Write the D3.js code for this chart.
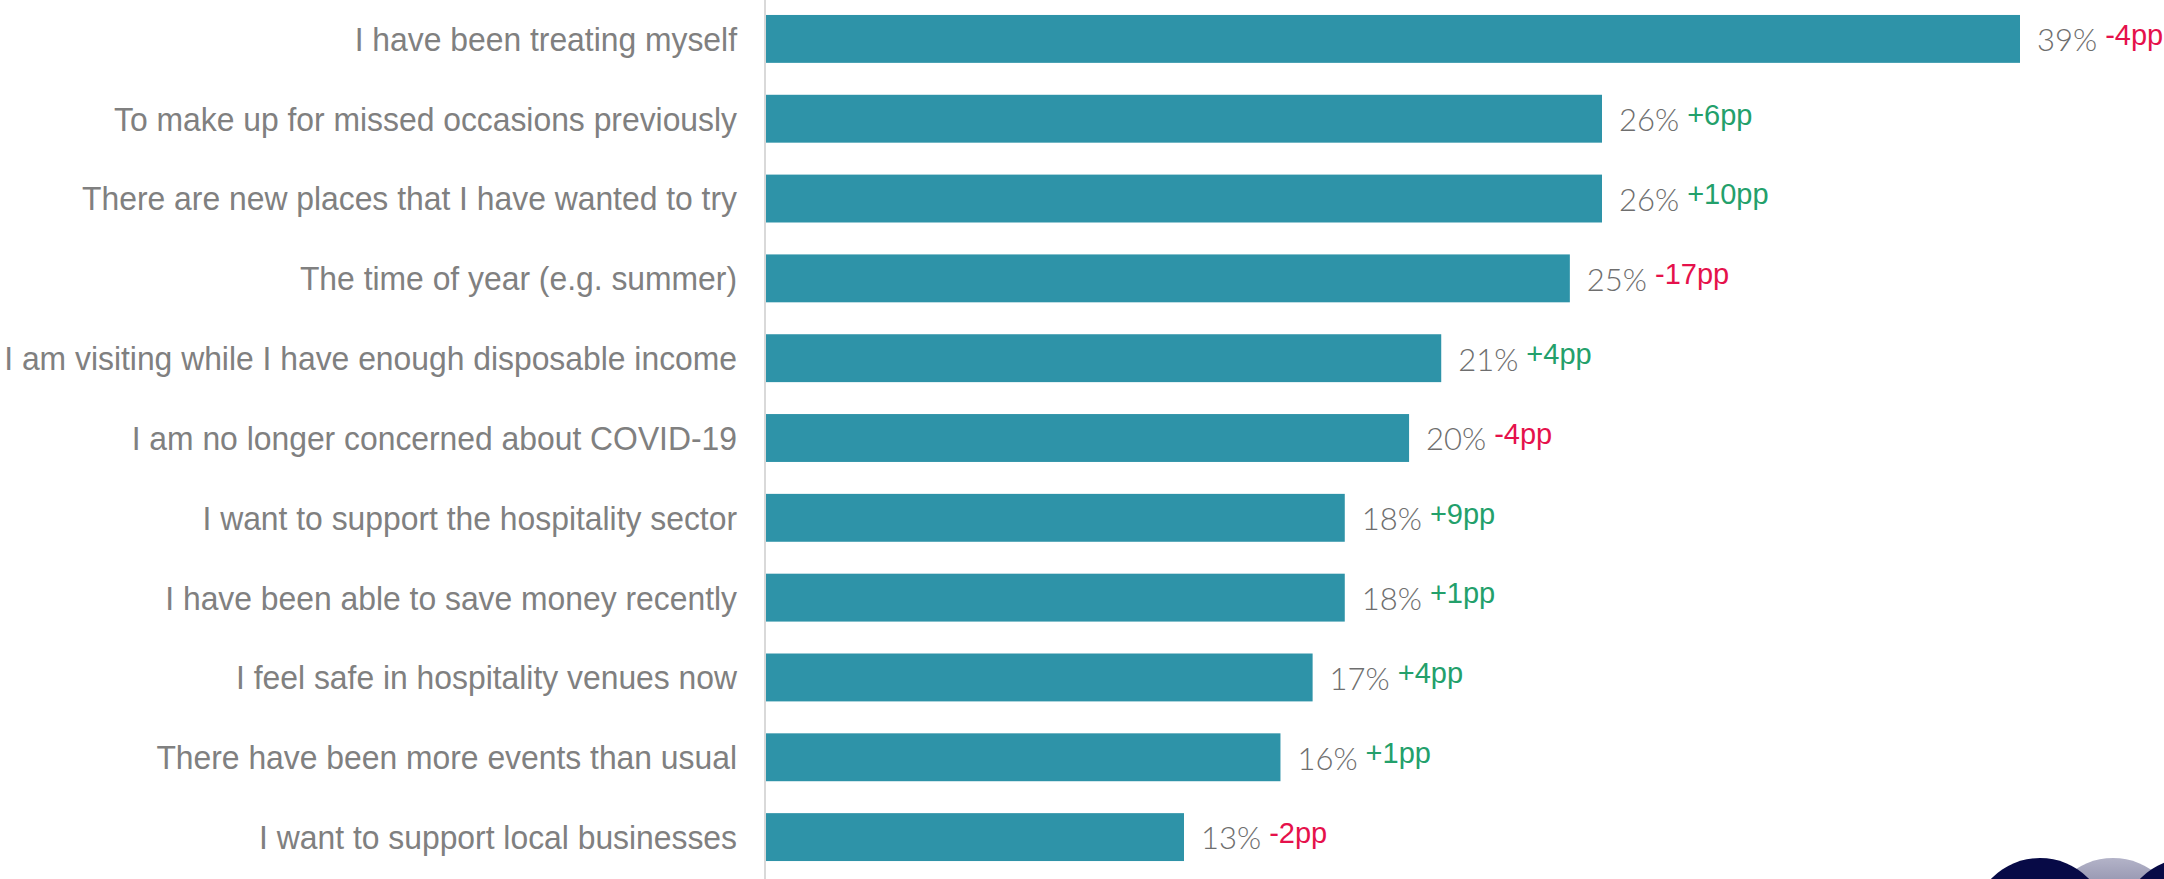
<!DOCTYPE html>
<html>
<head>
<meta charset="utf-8">
<script src="https://cdn.jsdelivr.net/npm/d3@7"></script>
<style>
  html, body { margin: 0; padding: 0; background: #ffffff; }
  svg { display: block; }
</style>
</head>
<body>
<svg id="chart" width="2164" height="879"></svg>
<script>
// Reasons for visiting hospitality venues
const categories = [
  "I have been treating myself",
  "To make up for missed occasions previously",
  "There are new places that I have wanted to try",
  "The time of year (e.g. summer)",
  "I am visiting while I have enough disposable income",
  "I am no longer concerned about COVID-19",
  "I want to support the hospitality sector",
  "I have been able to save money recently",
  "I feel safe in hospitality venues now",
  "There have been more events than usual",
  "I want to support local businesses"
];
const shares = [39, 26, 26, 25, 21, 20, 18, 18, 17, 16, 13];
const changes = [-4, 6, 10, -17, 4, -4, 9, 1, 4, 1, -2];

const W = 2164, H = 879;
const svg = d3.select("#chart");

const axisX = 766;
const x = d3.scaleLinear().domain([0, 39]).range([axisX, 2020]);
const y = d3.scaleBand()
  .domain(categories)
  .range([-1, 877])
  .paddingInner(0.4)
  .paddingOuter(0.2);

// decorative circles, bottom right
const defs = svg.append("defs");
const grad = defs.append("linearGradient")
  .attr("id", "midCircle").attr("x1", 0).attr("y1", 0).attr("x2", 0).attr("y2", 1);
grad.append("stop").attr("offset", "0%").attr("stop-color", "#b3b3c8");
grad.append("stop").attr("offset", "35%").attr("stop-color", "#7d7d9c");
grad.append("stop").attr("offset", "100%").attr("stop-color", "#3a3a66");

const deco = svg.append("g");
deco.append("circle").attr("cx", 2113).attr("cy", 926).attr("r", 68).attr("fill", "url(#midCircle)");
deco.append("circle").attr("cx", 2040).attr("cy", 926).attr("r", 68).attr("fill", "#070a46");
deco.append("circle").attr("cx", 2189).attr("cy", 926).attr("r", 68).attr("fill", "#070a46");

// vertical baseline
svg.append("line")
  .attr("x1", axisX - 1).attr("x2", axisX - 1)
  .attr("y1", 0).attr("y2", H)
  .attr("stroke", "#d9d9d9").attr("stroke-width", 2);

// bars
svg.append("g").selectAll("rect")
  .data(categories)
  .join("rect")
  .attr("x", axisX)
  .attr("y", d => y(d))
  .attr("width", (d, i) => x(shares[i]) - axisX)
  .attr("height", y.bandwidth())
  .attr("fill", "#2e93a8");

// category labels
const catG = svg.append("g");
const cats = catG.selectAll("text")
  .data(categories)
  .join("text")
  .attr("text-anchor", "end")
  .attr("x", 0)
  .attr("y", 0)
  .attr("dy", "0.36em")
  .attr("font-family", "'Liberation Sans', Arial, sans-serif")
  .attr("font-size", 33)
  .attr("fill", "#808080")
  .text(d => d);

// condense labels horizontally so the longest one spans the label column
let maxW = 0;
cats.each(function () { maxW = Math.max(maxW, this.getComputedTextLength()); });
const sx = 733 / maxW;
cats.attr("transform", d => `translate(737,${y(d) + y.bandwidth() / 2}) scale(${sx},1)`);

// value labels and change labels
const valG = svg.append("g");
categories.forEach((c, i) => {
  const cy = y(c) + y.bandwidth() / 2;
  const vx = x(shares[i]) + 17;
  const v = valG.append("text")
    .attr("x", vx)
    .attr("y", cy)
    .attr("dy", "0.4em")
    .attr("font-family", "Lato, 'Open Sans', sans-serif")
    .attr("font-weight", 300)
    .attr("font-size", 31)
    .attr("fill", "#6e6e6e")
    .text(shares[i] + "%");
  const vw = v.node().getComputedTextLength();
  valG.append("text")
    .attr("x", vx + vw + 8)
    .attr("y", cy)
    .attr("dy", "0.2em")
    .attr("font-family", "'Liberation Sans', Arial, sans-serif")
    .attr("font-size", 29)
    .attr("fill", changes[i] < 0 ? "#e5114b" : "#23a06b")
    .text((changes[i] > 0 ? "+" : "") + changes[i] + "pp");
});
</script>
</body>
</html>
